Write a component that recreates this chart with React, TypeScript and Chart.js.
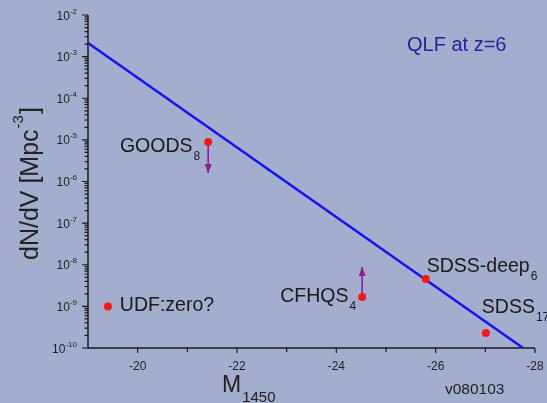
import { useEffect, useRef } from 'react';
import { Chart, registerables } from 'chart.js';

Chart.register(...registerables);

// ---- data ----
const pointNames = ['GOODS', 'UDF:zero?', 'CFHQS', 'SDSS-deep', 'SDSS'];
const pointSubs = ['8', '', '4', '6', '17'];
const pointM = [-21.42, -19.4, -24.52, -25.8, -27.01];
const pointDensity = [8.9e-6, 1.0e-9, 1.68e-9, 4.55e-9, 2.3e-10];

const qlfM = [-19, -27.76];
const qlfDensity = [2.12e-3, 1e-10];

const limitM = [-21.42, -24.52];
const limitFrom = [8.9e-6, 1.68e-9];
const limitTo = [1.6e-6, 8.8e-9];

const xTickValues = [-20, -22, -24, -26, -28];
const xMinorValues = [-21, -23, -25, -27];
const yTickExponents = [-10, -9, -8, -7, -6, -5, -4, -3, -2];

const titleText = 'QLF at z=6';
const versionText = 'v080103';

// ---- styles ----
const BG = '#a3adcd';
const FONT = '"Liberation Sans", Arial, sans-serif';
const AXIS = '#1a1a1a';
const labelStyle = [
  { dx: -8, dy: 10, align: 'right' },
  { dx: 12, dy: 5, align: 'left' },
  { dx: -6, dy: 5, align: 'right' },
  { dx: 1, dy: -7, align: 'left' },
  { dx: -4, dy: -20, align: 'left' },
];

const decorPlugin = {
  id: 'decor',
  beforeDatasetsDraw(chart: any) {
    const { ctx, chartArea } = chart;
    const xs = chart.scales.x;
    const ys = chart.scales.y;
    ctx.save();
    ctx.strokeStyle = AXIS;
    ctx.lineWidth = 1.5;
    ctx.beginPath();
    ctx.moveTo(chartArea.left, chartArea.top);
    ctx.lineTo(chartArea.left, chartArea.bottom);
    ctx.lineTo(chartArea.right, chartArea.bottom);
    ctx.stroke();
    ctx.lineWidth = 1.2;
    // y ticks
    ctx.beginPath();
    for (const e of yTickExponents) {
      const py = ys.getPixelForValue(Math.pow(10, e));
      ctx.moveTo(chartArea.left - 6, py);
      ctx.lineTo(chartArea.left, py);
      if (e < -2) {
        for (let k = 2; k <= 9; k++) {
          const my = ys.getPixelForValue(k * Math.pow(10, e));
          ctx.moveTo(chartArea.left - 3.5, my);
          ctx.lineTo(chartArea.left, my);
        }
      }
    }
    // x ticks
    for (const v of xTickValues) {
      const px = xs.getPixelForValue(v);
      ctx.moveTo(px, chartArea.bottom);
      ctx.lineTo(px, chartArea.bottom + 5);
    }
    for (const v of xMinorValues) {
      const px = xs.getPixelForValue(v);
      ctx.moveTo(px, chartArea.bottom);
      ctx.lineTo(px, chartArea.bottom + 4);
    }
    ctx.stroke();

    ctx.fillStyle = '#222';
    // x tick labels
    ctx.font = `12px ${FONT}`;
    ctx.textAlign = 'center';
    ctx.textBaseline = 'alphabetic';
    for (const v of xTickValues) {
      ctx.fillText(String(v), xs.getPixelForValue(v), chartArea.bottom + 22);
    }
    // y tick labels with superscripts
    const right = chartArea.left - 11;
    for (const e of yTickExponents) {
      const py = ys.getPixelForValue(Math.pow(10, e));
      ctx.font = `8px ${FONT}`;
      const sup = String(e);
      const sw = ctx.measureText(sup).width;
      ctx.textAlign = 'left';
      ctx.fillText(sup, right - sw, py - 1.5);
      ctx.font = `12px ${FONT}`;
      ctx.textAlign = 'right';
      ctx.fillText('10', right - sw, py + 4.5);
    }

    // axis titles
    ctx.textAlign = 'left';
    ctx.font = `23px ${FONT}`;
    const mx = 222;
    ctx.fillText('M', mx, 392);
    const mw = ctx.measureText('M').width;
    ctx.font = `15px ${FONT}`;
    ctx.fillText('1450', mx + mw + 1, 402);

    ctx.save();
    ctx.translate(38, 260);
    ctx.rotate(-Math.PI / 2);
    ctx.font = `25px ${FONT}`;
    const yt = 'dN/dV [Mpc';
    ctx.fillText(yt, 0, 0);
    let w = ctx.measureText(yt).width;
    ctx.font = `15px ${FONT}`;
    ctx.fillText('-3', w + 1, -15);
    w += ctx.measureText('-3').width + 2;
    ctx.font = `25px ${FONT}`;
    ctx.fillText(']', w, 0);
    ctx.restore();

    ctx.font = `15.5px ${FONT}`;
    ctx.fillText(versionText, 445, 394);

    ctx.fillStyle = '#23239a';
    ctx.font = `20px ${FONT}`;
    ctx.fillText(titleText, 407, 51);
    ctx.restore();
  },
  afterDatasetsDraw(chart: any) {
    const { ctx } = chart;
    ctx.save();
    // arrowheads on limit datasets
    for (let i = 1; i <= limitM.length; i++) {
      const meta = chart.getDatasetMeta(i);
      const a = meta.data[0];
      const b = meta.data[1];
      const dir = b.y > a.y ? 1 : -1;
      ctx.fillStyle = '#8c1e96';
      ctx.beginPath();
      ctx.moveTo(b.x, b.y);
      ctx.lineTo(b.x - 3.5, b.y - dir * 9);
      ctx.lineTo(b.x + 3.5, b.y - dir * 9);
      ctx.closePath();
      ctx.fill();
    }
    // point labels
    const meta0 = chart.getDatasetMeta(0);
    ctx.fillStyle = '#1a1a1a';
    ctx.textBaseline = 'alphabetic';
    pointNames.forEach((name, i) => {
      const el = meta0.data[i];
      const st = labelStyle[i];
      const sub = pointSubs[i];
      ctx.font = `19.5px ${FONT}`;
      const nw = ctx.measureText(name).width;
      ctx.font = `12px ${FONT}`;
      const sw = sub ? ctx.measureText(sub).width + 1 : 0;
      let x0 = el.x + st.dx;
      if (st.align === 'right') x0 -= nw + sw;
      ctx.textAlign = 'left';
      ctx.font = `19.5px ${FONT}`;
      ctx.fillText(name, x0, el.y + st.dy);
      if (sub) {
        ctx.font = `12px ${FONT}`;
        ctx.fillText(sub, x0 + nw + 1, el.y + st.dy + 8);
      }
    });
    ctx.restore();
  },
};

export default function App() {
  const ref = useRef<HTMLCanvasElement | null>(null);
  useEffect(() => {
    if (!ref.current) return;
    const chart = new Chart(ref.current, {
      type: 'scatter',
      data: {
        datasets: [
          {
            type: 'scatter',
            data: pointM.map((m, i) => ({ x: m, y: pointDensity[i] })),
            backgroundColor: '#ff1414',
            borderColor: '#ff1414',
            pointRadius: 4,
            pointBorderWidth: 0,
          } as any,
          ...limitM.map((m, i) => ({
            type: 'line',
            data: [
              { x: m, y: limitFrom[i] },
              { x: m, y: limitTo[i] },
            ],
            borderColor: '#8c1e96',
            borderWidth: 1.6,
            pointRadius: 0,
            showLine: true,
            fill: false,
          })),
          {
            type: 'line',
            data: qlfM.map((m, i) => ({ x: m, y: qlfDensity[i] })),
            borderColor: '#1414f5',
            borderWidth: 2.5,
            pointRadius: 0,
            showLine: true,
            fill: false,
          } as any,
        ],
      },
      options: {
        responsive: false,
        animation: false,
        layout: { padding: { left: 88, right: 12, top: 15, bottom: 55 } },
        plugins: { legend: { display: false }, tooltip: { enabled: false } },
        events: [],
        scales: {
          x: { type: 'linear', min: -28, max: -19, reverse: true, display: false },
          y: { type: 'logarithmic', min: 1e-10, max: 1e-2, display: false },
        },
      },
      plugins: [decorPlugin],
    } as any);
    return () => chart.destroy();
  }, []);
  return (
    <div style={{ position: 'absolute', left: 0, top: 0, width: 547, height: 403, background: BG }}>
      <canvas ref={ref} width={547} height={403} />
    </div>
  );
}
